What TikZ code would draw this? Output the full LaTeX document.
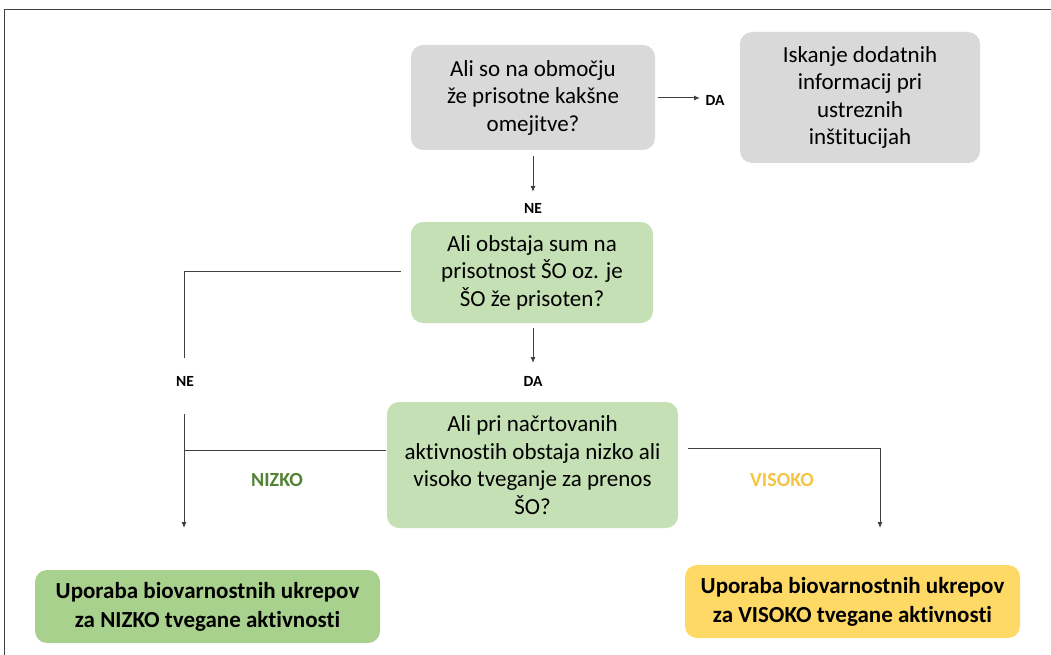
\documentclass[tikz,border=0pt]{standalone}
\usepackage{fontspec}
\setmainfont{Carlito}[Ligatures=NoCommon]
\usetikzlibrary{arrows.meta}
\definecolor{boxgray}{HTML}{D9D9D9}
\definecolor{boxlgreen}{HTML}{C5E0B4}
\definecolor{boxdgreen}{HTML}{A9D18E}
\definecolor{boxyellow}{HTML}{FFD966}
\definecolor{lowtxt}{HTML}{548235}
\definecolor{hightxt}{HTML}{F4C542}
\definecolor{linec}{HTML}{404040}
\tikzset{
  qbox/.style={rounded corners=12pt, align=center, inner sep=0pt, font=\fontsize{23}{27.5}\selectfont},
  rbox/.style={rounded corners=12pt, align=center, inner sep=0pt, font=\bfseries\fontsize{23}{29}\selectfont},
  lbl/.style={font=\bfseries\fontsize{15.5}{17}\selectfont, inner sep=0pt},
  conn/.style={draw=linec, line width=1pt},
  arr/.style={conn, -{Latex[length=6pt,width=5pt]}},
}
\begin{document}
\begin{tikzpicture}[x=1pt,y=-1pt]
\useasboundingbox (0,0) rectangle (1051,655);
\draw[linec, line width=1pt] (4,655) -- (4,10) -- (1051,10);
% boxes
\node[qbox, fill=boxgray, minimum width=244pt, minimum height=105pt] (q1) at (533,97.5) {Ali so na območju\\že prisotne kakšne\\omejitve?};
\node[qbox, fill=boxgray, minimum width=240pt, minimum height=131pt] (info) at (860,97.5) {Iskanje dodatnih\\informacij pri\\ustreznih\\inštitucijah};
\node[qbox, fill=boxlgreen, minimum width=242pt, minimum height=101pt] (q2) at (532,272.5) {Ali obstaja sum na\\prisotnost ŠO oz. je\\ŠO že prisoten?};
\node[qbox, fill=boxlgreen, minimum width=291pt, minimum height=126pt] (q3) at (532.5,465) {Ali pri načrtovanih\\aktivnostih obstaja nizko ali\\visoko tveganje za prenos\\ŠO?};
\node[rbox, fill=boxdgreen, minimum width=345pt, minimum height=73pt] (low) at (207.5,606.5) {Uporaba biovarnostnih ukrepov\\za NIZKO tvegane aktivnosti};
\node[rbox, fill=boxyellow, minimum width=335pt, minimum height=73pt] (high) at (852.5,601.5) {Uporaba biovarnostnih ukrepov\\za VISOKO tvegane aktivnosti};
% labels
\node[lbl] (da1) at (715,100) {DA};
\node[lbl] (ne1) at (533,208) {NE};
\node[lbl] (ne2) at (185,381) {NE};
\node[lbl] (da2) at (533,381) {DA};
\node[font=\bfseries\fontsize{20}{22}\selectfont, text=lowtxt, inner sep=0pt] (nizko) at (277,480) {NIZKO};
\node[font=\bfseries\fontsize{20}{22}\selectfont, text=hightxt, inner sep=0pt] (visoko) at (782,480) {VISOKO};
% coordinates
\coordinate (c1a) at (658,98);
\coordinate (c1b) at (700,98);
\coordinate (c2a) at (533,156);
\coordinate (c2b) at (533,192);
\coordinate (c3a) at (401,271);
\coordinate (c3b) at (184,271);
\coordinate (c3c) at (184,358);
\coordinate (c4a) at (533,328);
\coordinate (c4b) at (533,363);
\coordinate (c5a) at (184,414);
\coordinate (c5b) at (184,528);
\coordinate (c5j) at (184,450);
\coordinate (c6a) at (386,450);
\coordinate (c7a) at (688,448);
\coordinate (c7b) at (880,448);
\coordinate (c7c) at (880,528);
% connectors
\draw[arr] (c1a) -- (c1b);
\draw[arr] (c2a) -- (c2b);
\draw[conn] (c3a) -- (c3b) -- (c3c);
\draw[arr] (c4a) -- (c4b);
\draw[arr] (c5a) -- (c5b);
\draw[conn] (c6a) -- (c5j);
\draw[arr] (c7a) -- (c7b) -- (c7c);
\end{tikzpicture}
\end{document}
